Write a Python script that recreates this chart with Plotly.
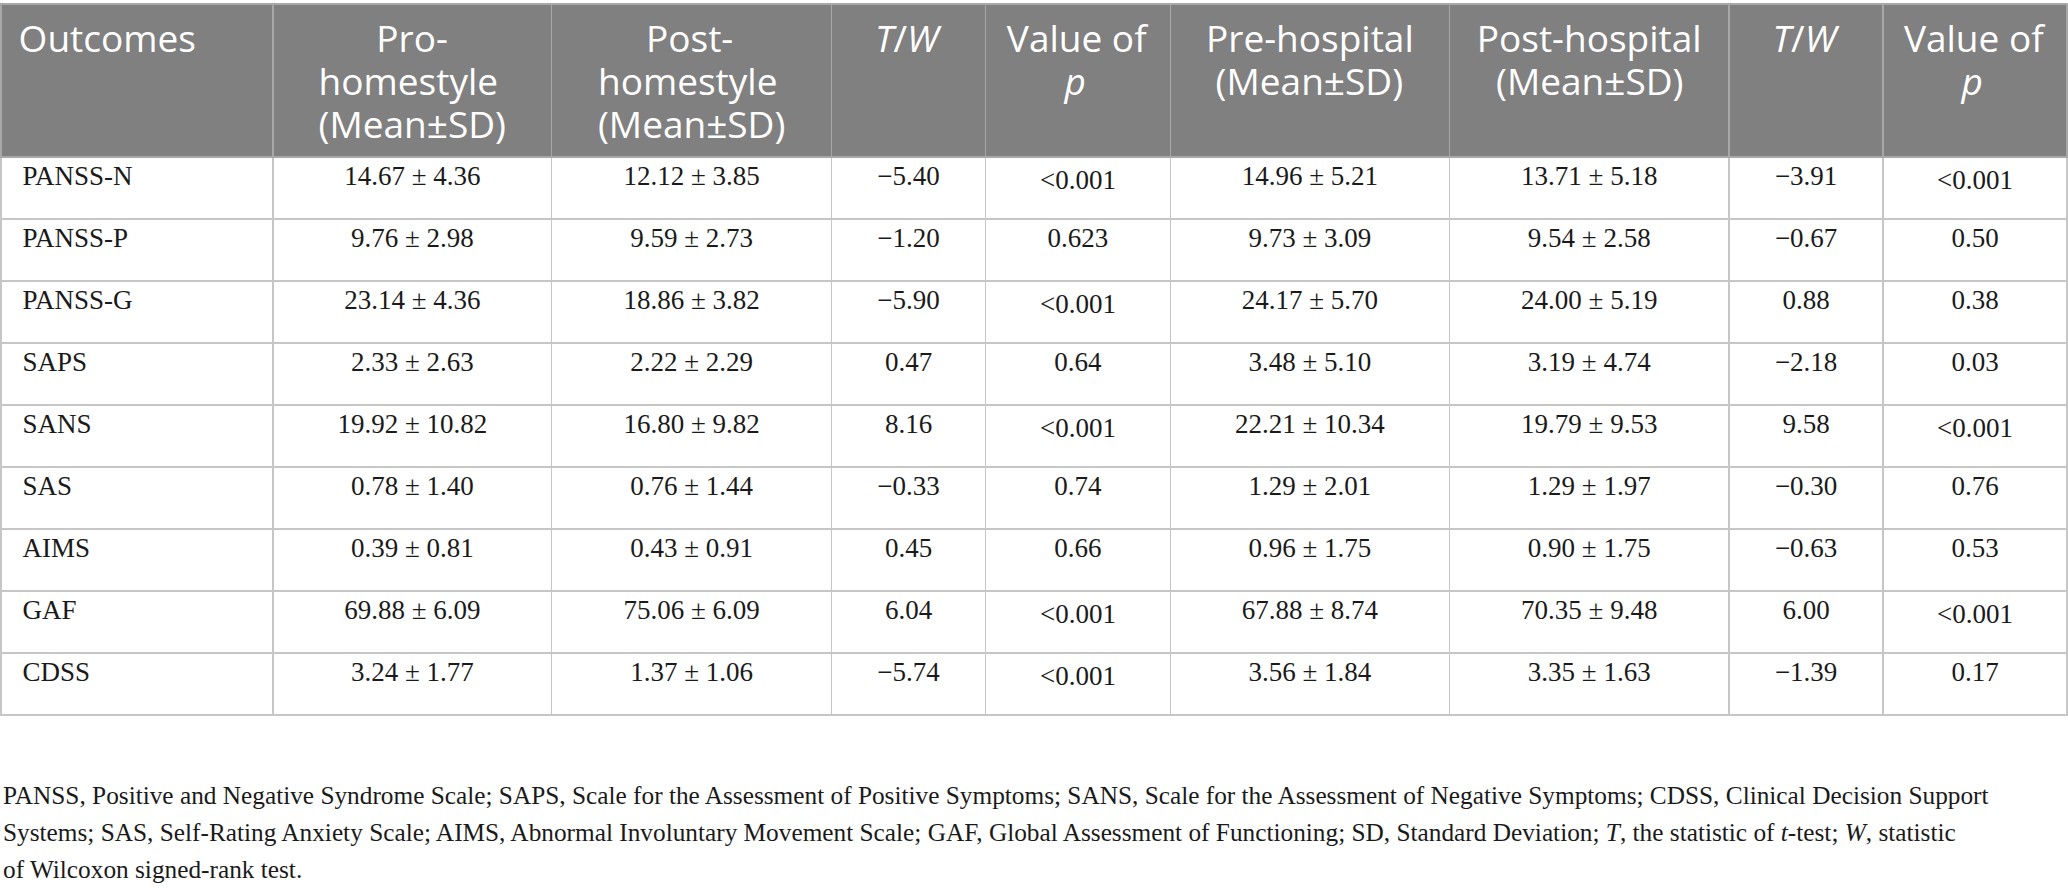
import plotly.graph_objects as go

# Uitkomstmaten (rijen van de tabel)
outcomes = ["PANSS-N", "PANSS-P", "PANSS-G", "SAPS", "SANS", "SAS", "AIMS", "GAF", "CDSS"]

# Homestyle: voor / na (gemiddelde en SD)
pro_home_mean = [14.67, 9.76, 23.14, 2.33, 19.92, 0.78, 0.39, 69.88, 3.24]
pro_home_sd = [4.36, 2.98, 4.36, 2.63, 10.82, 1.40, 0.81, 6.09, 1.77]
post_home_mean = [12.12, 9.59, 18.86, 2.22, 16.80, 0.76, 0.43, 75.06, 1.37]
post_home_sd = [3.85, 2.73, 3.82, 2.29, 9.82, 1.44, 0.91, 6.09, 1.06]
tw_home = [-5.40, -1.20, -5.90, 0.47, 8.16, -0.33, 0.45, 6.04, -5.74]
p_home = ["<0.001", "0.623", "<0.001", "0.64", "<0.001", "0.74", "0.66", "<0.001", "<0.001"]

# Ziekenhuis: voor / na (gemiddelde en SD)
pre_hosp_mean = [14.96, 9.73, 24.17, 3.48, 22.21, 1.29, 0.96, 67.88, 3.56]
pre_hosp_sd = [5.21, 3.09, 5.70, 5.10, 10.34, 2.01, 1.75, 8.74, 1.84]
post_hosp_mean = [13.71, 9.54, 24.00, 3.19, 19.79, 1.29, 0.90, 70.35, 3.35]
post_hosp_sd = [5.18, 2.58, 5.19, 4.74, 9.53, 1.97, 1.75, 9.48, 1.63]
tw_hosp = [-3.91, -0.67, 0.88, -2.18, 9.58, -0.30, -0.63, 6.00, -1.39]
p_hosp = ["<0.001", "0.50", "0.38", "0.03", "<0.001", "0.76", "0.53", "<0.001", "0.17"]

NB = "\u00a0"

# kopregels per kolom; korte regels krijgen voorloopspaties zodat ze gecentreerd lijken
header_lines = [
    [NB + "Outcomes"],
    [NB * 6 + "Pro-", "homestyle", "(Mean±SD)"],
    [NB * 5 + "Post-", "homestyle", "(Mean±SD)"],
    ["<i>T</i>/<i>W</i>"],
    ["Value of", NB * 6 + "<i>p</i>"],
    ["Pre-hospital", NB + "(Mean±SD)"],
    ["Post-hospital", NB * 2 + "(Mean±SD)"],
    ["<i>T</i>/<i>W</i>"],
    ["Value of", NB * 6 + "<i>p</i>"],
]

footnote_lines = [
    "PANSS, Positive and Negative Syndrome Scale; SAPS, Scale for the Assessment of Positive Symptoms; "
    "SANS, Scale for the Assessment of Negative Symptoms; CDSS, Clinical Decision Support",
    "Systems; SAS, Self-Rating Anxiety Scale; AIMS, Abnormal Involuntary Movement Scale; "
    "GAF, Global Assessment of Functioning; SD, Standard Deviation; <i>T</i>, the statistic of "
    "<i>t</i>-test; <i>W</i>, statistic",
    "of Wilcoxon signed-rank test.",
]


def header_text(lines):
    # regelafstand van de 33px kopfont, letters op 37px;
    # enkele regels krijgen een lege tweede regel zodat alles even hoog staat
    text = "<br>".join(f"<span style='font-size:37px'>{t}</span>" for t in lines)
    if len(lines) == 1:
        text += "<br>"
    return text


def mean_sd(means, sds):
    return [f"{m:.2f} ± {s:.2f}" for m, s in zip(means, sds)]


def stat(values):
    return [f"{v:.2f}".replace("-", "\u2212") for v in values]


headers = [header_text(h) for h in header_lines]

columns = [
    [NB * 2 + o for o in outcomes],
    mean_sd(pro_home_mean, pro_home_sd),
    mean_sd(post_home_mean, post_home_sd),
    stat(tw_home),
    p_home,
    mean_sd(pre_hosp_mean, pre_hosp_sd),
    mean_sd(post_hosp_mean, post_hosp_sd),
    stat(tw_hosp),
    p_hosp,
]

fig = go.Figure(
    go.Table(
        columnwidth=[272, 279, 280, 154, 185, 279, 280, 154, 184],
        header=dict(
            values=headers,
            fill_color="#808080",
            line=dict(color="#a8a8a8", width=1.5),
            align=["left"] + ["center"] * 8,
            font=dict(family="Open Sans", size=33, color="white"),
            height=151,
        ),
        cells=dict(
            values=columns,
            fill_color="white",
            line=dict(color="#c6c6c6", width=1.5),
            align=["left"] + ["center"] * 8,
            font=dict(family="Liberation Serif", size=27, color="#1a1a1a"),
            height=62,
        ),
    )
)

# voetnoot, regel voor regel
for i, line in enumerate(footnote_lines):
    fig.add_annotation(
        text=line,
        xref="paper", yref="paper",
        x=0, y=0.107 - i * 0.0417,
        xanchor="left", yanchor="middle",
        align="left",
        showarrow=False,
        font=dict(family="Liberation Serif", size=25.3, color="#1a1a1a"),
    )

fig.update_layout(
    width=2068,
    height=890,
    margin=dict(l=1, r=1, t=4, b=0),
    paper_bgcolor="white",
    plot_bgcolor="white",
)

# standaard body-marge van de pagina weghalen
fig.write_html(
    "out.html",
    config={"displayModeBar": False},
    post_script="document.body.style.margin='0';document.body.style.overflow='hidden';",
)
